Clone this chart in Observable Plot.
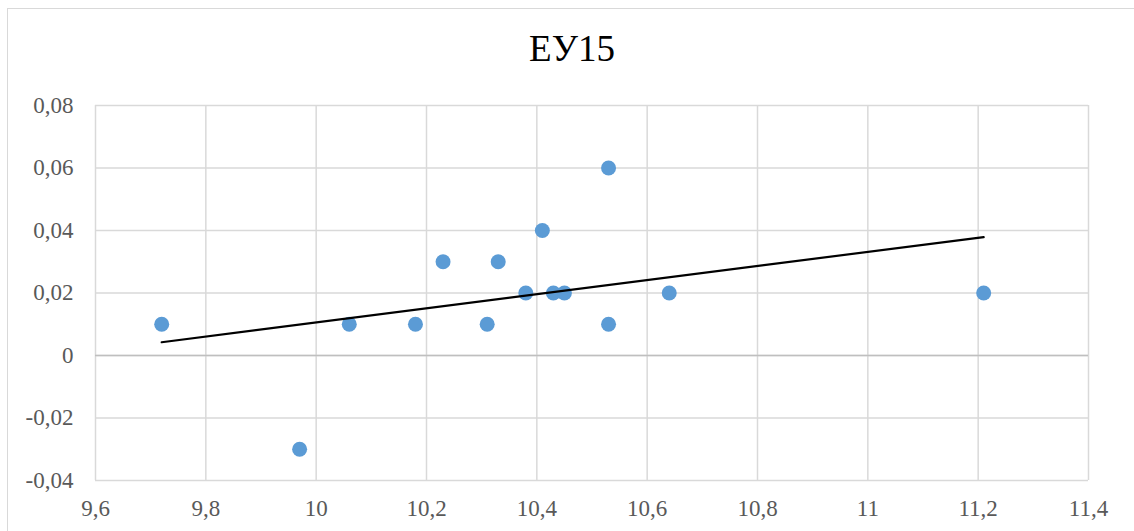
<!DOCTYPE html>
<html>
<head>
<meta charset="utf-8">
<script src="https://cdn.jsdelivr.net/npm/d3@7"></script>
<script src="https://cdn.jsdelivr.net/npm/@observablehq/plot@0.6"></script>
<style>
  html, body { margin: 0; padding: 0; background: #fff; overflow: hidden; }
  #wrap { position: relative; width: 1134px; height: 531px; }
  #frame { position: absolute; left: 7px; top: 8px; width: 1140px; height: 600px;
           border: 1.5px solid #d9d9d9; box-sizing: border-box; }
  #title { position: absolute; left: 0; top: 0; width: 1134px; height: 90px;
           font-family: "Liberation Serif", "Times New Roman", serif; font-size: 37px;
           color: #000; text-align: center; line-height: 1; padding-left: 10px; box-sizing: border-box; }
  #title span { position: absolute; left: 0; right: 0; top: 30px; text-align: center; padding-left: 10px; }
  #chart { position: absolute; left: 0; top: 90px; }
</style>
</head>
<body>
<div id="wrap">
  <div id="frame"></div>
  <div id="title"><span>ЕУ15</span></div>
  <div id="chart"></div>
</div>
<script>
const titleText = "ЕУ15";
const xValues = [9.72, 9.97, 10.06, 10.18, 10.23, 10.31, 10.33, 10.38, 10.41, 10.43, 10.45, 10.53, 10.53, 10.64, 11.21];
const yValues = [0.01, -0.03, 0.01, 0.01, 0.03, 0.01, 0.03, 0.02, 0.04, 0.02, 0.02, 0.06, 0.01, 0.02, 0.02];
const xTicks = [9.6, 9.8, 10, 10.2, 10.4, 10.6, 10.8, 11, 11.2, 11.4];
const yTicks = [-0.04, -0.02, 0, 0.02, 0.04, 0.06, 0.08];

const data = xValues.map((x, i) => ({x, y: yValues[i]}));
const fmt = d => String(d).replace(".", ",");

const chart = Plot.plot({
  width: 1134,
  height: 441,
  marginLeft: 95,
  marginRight: 46,
  marginTop: 15,
  marginBottom: 51,
  style: { fontFamily: "'Liberation Serif', 'Times New Roman', serif", fontSize: "23px", color: "#595959", background: "transparent", overflow: "visible" },
  x: { domain: [9.6, 11.4], ticks: xTicks, tickFormat: fmt, tickSize: 0, tickPadding: 19, label: null },
  y: { domain: [-0.04, 0.08], ticks: yTicks, tickFormat: fmt, tickSize: 0, tickPadding: 22, label: null },
  marks: [
    Plot.gridX(xTicks, { stroke: "#d9d9d9", strokeOpacity: 1, strokeWidth: 1.5 }),
    Plot.gridY(yTicks, { stroke: "#d9d9d9", strokeOpacity: 1, strokeWidth: 1.5 }),
    Plot.ruleY([0], { stroke: "#bfbfbf", strokeWidth: 1.5 }),
    Plot.axisX({ ticks: xTicks, tickFormat: fmt, tickSize: 0, tickPadding: 19, fill: "#595959", fontSize: 23 }),
    Plot.axisY({ ticks: yTicks, tickFormat: fmt, tickSize: 0, tickPadding: 22, fill: "#595959", fontSize: 23 }),
    Plot.dot(data, { x: "x", y: "y", r: 7.5, fill: "#5b9bd5", stroke: "none" }),
    Plot.linearRegressionY(data, { x: "x", y: "y", ci: 0, stroke: "#000", strokeWidth: 2.2 })
  ]
});
document.getElementById("chart").appendChild(chart);
document.querySelector("#title span").textContent = titleText;
</script>
</body>
</html>
